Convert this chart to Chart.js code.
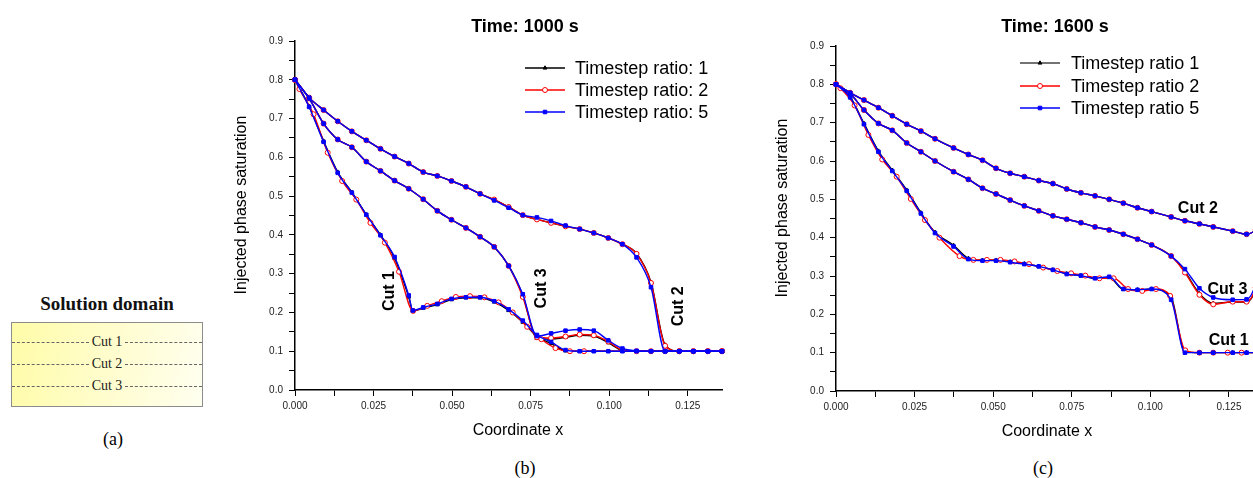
<!DOCTYPE html>
<html><head><meta charset="utf-8">
<script src="https://cdn.jsdelivr.net/npm/chart.js"></script>
<style>
html,body{margin:0;padding:0;width:1253px;height:478px;overflow:hidden;background:#fff;}
canvas{position:absolute;top:0;}
.cap{position:absolute;font-family:"Liberation Serif",serif;font-size:18px;line-height:18px;transform:translate(-50%,-50%);color:#000;white-space:nowrap;}
#titleA{position:absolute;left:107px;top:303px;transform:translate(-50%,-50%);font-family:"Liberation Serif",serif;font-weight:bold;font-size:19px;line-height:19px;white-space:nowrap;color:#111;}
#boxA{position:absolute;left:11px;top:322px;width:190px;height:83px;border:1px solid #8c8c8c;background:linear-gradient(100deg,#fffca8 0%,#fffdd0 55%,#fffff0 100%);}
.cutrow{position:absolute;left:0;right:0;height:16px;display:flex;align-items:center;font-family:"Liberation Serif",serif;font-size:14px;line-height:16px;color:#222;}
.seg{flex:1;border-top:1px dashed #666;height:0;}
.cutrow span{padding:0 3px;}
</style></head>
<body>
<div id="titleA">Solution domain</div>
<div id="boxA">
  <div class="cutrow" style="top:11px"><div class="seg"></div><span>Cut 1</span><div class="seg"></div></div>
  <div class="cutrow" style="top:33px"><div class="seg"></div><span>Cut 2</span><div class="seg"></div></div>
  <div class="cutrow" style="top:55px"><div class="seg"></div><span>Cut 3</span><div class="seg"></div></div>
</div>
<div class="cap" style="left:113px;top:439px">(a)</div>
<div class="cap" style="left:525px;top:468px">(b)</div>
<div class="cap" style="left:1043px;top:468px">(c)</div>
<canvas id="cb" width="535" height="478" style="left:225px"></canvas>
<canvas id="cc" width="520" height="478" style="left:760px"></canvas>
<script>
// ---------- Panel (b): Time 1000 s ----------
const xB = [0, 0.0045, 0.0091, 0.0136, 0.0181, 0.0227, 0.0272, 0.0317, 0.0362, 0.0408, 0.0453, 0.0498, 0.0544, 0.0589, 0.0634, 0.068, 0.0725, 0.077, 0.0815, 0.0861, 0.0906, 0.0951, 0.0997, 0.1042, 0.1087, 0.1133, 0.1178, 0.1223, 0.1268, 0.1314, 0.1359];
const xB1 = [0, 0.0045, 0.0091, 0.0136, 0.0181, 0.0227, 0.0272, 0.0317, 0.0362, 0.0375, 0.0408, 0.0453, 0.0498, 0.0544, 0.0589, 0.0634, 0.068, 0.0725, 0.077, 0.0815, 0.0861, 0.0906, 0.0951, 0.0997, 0.1042, 0.1087, 0.1133, 0.1178, 0.1223, 0.1268, 0.1314, 0.1359];
const xB1red = [0, 0.0014, 0.0059, 0.0104, 0.015, 0.0195, 0.024, 0.0286, 0.0331, 0.0376, 0.0421, 0.0467, 0.0512, 0.0557, 0.0603, 0.0648, 0.0693, 0.0739, 0.0784, 0.0829, 0.0875, 0.092, 0.1359];

const b1_r1 = [0.800, 0.731, 0.642, 0.562, 0.510, 0.452, 0.400, 0.340, 0.240, 0.204, 0.211, 0.220, 0.233, 0.238, 0.238, 0.227, 0.205, 0.175, 0.138, 0.120, 0.101, 0.100, 0.100, 0.100, 0.100, 0.100, 0.100, 0.100, 0.100, 0.100, 0.100, 0.100];
const b1_r2 = [0.800, 0.776, 0.711, 0.612, 0.539, 0.491, 0.431, 0.380, 0.305, 0.204, 0.217, 0.229, 0.240, 0.242, 0.239, 0.226, 0.200, 0.163, 0.131, 0.108, 0.100, 0.100, 0.100];
const b1_r5 = [0.800, 0.730, 0.640, 0.560, 0.509, 0.452, 0.399, 0.343, 0.244, 0.205, 0.213, 0.222, 0.235, 0.239, 0.239, 0.229, 0.208, 0.179, 0.142, 0.124, 0.103, 0.100, 0.100, 0.100, 0.100, 0.100, 0.100, 0.100, 0.100, 0.100, 0.100, 0.100];

const b2_r1 = [0.800, 0.754, 0.722, 0.693, 0.667, 0.644, 0.622, 0.602, 0.584, 0.562, 0.552, 0.539, 0.524, 0.506, 0.491, 0.472, 0.451, 0.440, 0.431, 0.422, 0.415, 0.405, 0.392, 0.376, 0.352, 0.278, 0.116, 0.100, 0.100, 0.100, 0.100];
const b2_r2 = [0.800, 0.754, 0.722, 0.693, 0.667, 0.644, 0.622, 0.602, 0.584, 0.562, 0.552, 0.539, 0.524, 0.506, 0.491, 0.472, 0.451, 0.440, 0.431, 0.422, 0.415, 0.405, 0.392, 0.376, 0.351, 0.276, 0.114, 0.100, 0.100, 0.100, 0.100];
const b2_r5 = [0.800, 0.754, 0.722, 0.693, 0.667, 0.644, 0.622, 0.602, 0.584, 0.562, 0.552, 0.539, 0.524, 0.506, 0.489, 0.470, 0.451, 0.445, 0.436, 0.424, 0.415, 0.405, 0.392, 0.376, 0.342, 0.265, 0.100, 0.100, 0.100, 0.100, 0.100];

const b3_r1 = [0.800, 0.752, 0.687, 0.646, 0.626, 0.589, 0.565, 0.540, 0.519, 0.492, 0.462, 0.439, 0.418, 0.395, 0.369, 0.321, 0.244, 0.133, 0.131, 0.136, 0.141, 0.139, 0.122, 0.102, 0.100, 0.100, 0.100, 0.100, 0.100, 0.100, 0.100];
const b3_r2 = [0.800, 0.752, 0.687, 0.646, 0.626, 0.589, 0.565, 0.540, 0.519, 0.492, 0.462, 0.439, 0.418, 0.395, 0.369, 0.320, 0.240, 0.136, 0.134, 0.138, 0.143, 0.141, 0.125, 0.103, 0.100, 0.100, 0.100, 0.100, 0.100, 0.100, 0.100];
const b3_r5 = [0.800, 0.752, 0.687, 0.646, 0.626, 0.589, 0.565, 0.540, 0.519, 0.492, 0.462, 0.439, 0.418, 0.395, 0.369, 0.320, 0.247, 0.139, 0.146, 0.153, 0.156, 0.153, 0.128, 0.107, 0.101, 0.100, 0.100, 0.100, 0.100, 0.100, 0.100];

// ---------- Panel (c): Time 1600 s ----------
const xC = [0, 0.0045, 0.0089, 0.0135, 0.0179, 0.0225, 0.027, 0.0315, 0.0374, 0.0421, 0.0466, 0.0509, 0.0554, 0.0599, 0.0645, 0.069, 0.0734, 0.0779, 0.0824, 0.0869, 0.0914, 0.0959, 0.1004, 0.1066, 0.111, 0.1156, 0.120, 0.1262, 0.1306, 0.1335, 0.135];
const xC1red = [0, 0.0014, 0.0059, 0.0103, 0.0147, 0.0193, 0.0238, 0.0283, 0.0329, 0.0393, 0.0437, 0.048, 0.0523, 0.0568, 0.0614, 0.0659, 0.0704, 0.0748, 0.0793, 0.0838, 0.0883, 0.0929, 0.0974, 0.1018, 0.1063, 0.1111, 0.1156, 0.120, 0.1246, 0.129, 0.135];

const c1_r1 = [0.800, 0.768, 0.698, 0.626, 0.576, 0.524, 0.465, 0.414, 0.380, 0.346, 0.341, 0.341, 0.337, 0.332, 0.325, 0.316, 0.306, 0.301, 0.294, 0.296, 0.265, 0.264, 0.266, 0.245, 0.102, 0.100, 0.100, 0.100, 0.100, 0.100, 0.100];
const c1_r2 = [0.800, 0.790, 0.745, 0.668, 0.604, 0.559, 0.501, 0.446, 0.400, 0.352, 0.342, 0.342, 0.342, 0.338, 0.331, 0.322, 0.313, 0.307, 0.301, 0.294, 0.294, 0.266, 0.261, 0.266, 0.248, 0.106, 0.100, 0.100, 0.100, 0.100, 0.100];
const c1_r5 = [0.800, 0.766, 0.696, 0.624, 0.574, 0.522, 0.463, 0.412, 0.377, 0.344, 0.340, 0.340, 0.336, 0.331, 0.325, 0.316, 0.305, 0.301, 0.294, 0.298, 0.266, 0.264, 0.266, 0.238, 0.100, 0.100, 0.100, 0.100, 0.100, 0.100, 0.100];

const c2_r1 = [0.800, 0.778, 0.759, 0.739, 0.718, 0.696, 0.678, 0.658, 0.634, 0.617, 0.602, 0.581, 0.568, 0.559, 0.549, 0.541, 0.527, 0.517, 0.509, 0.500, 0.490, 0.478, 0.468, 0.454, 0.444, 0.436, 0.428, 0.417, 0.409, 0.421, 0.440];
const c2_r2 = [0.800, 0.778, 0.759, 0.739, 0.718, 0.696, 0.678, 0.658, 0.634, 0.617, 0.602, 0.581, 0.568, 0.559, 0.549, 0.541, 0.527, 0.517, 0.509, 0.500, 0.490, 0.478, 0.468, 0.454, 0.444, 0.436, 0.428, 0.417, 0.409, 0.421, 0.440];
const c2_r5 = [0.800, 0.778, 0.759, 0.739, 0.718, 0.696, 0.678, 0.658, 0.634, 0.617, 0.602, 0.581, 0.568, 0.559, 0.549, 0.541, 0.527, 0.517, 0.509, 0.500, 0.490, 0.478, 0.468, 0.454, 0.444, 0.436, 0.428, 0.417, 0.409, 0.421, 0.440];

const c3_r1 = [0.800, 0.776, 0.733, 0.698, 0.680, 0.647, 0.624, 0.600, 0.572, 0.552, 0.529, 0.514, 0.498, 0.483, 0.470, 0.457, 0.448, 0.439, 0.428, 0.420, 0.409, 0.396, 0.381, 0.352, 0.311, 0.254, 0.229, 0.232, 0.232, 0.268, 0.330];
const c3_r2 = [0.800, 0.776, 0.733, 0.698, 0.680, 0.647, 0.624, 0.600, 0.572, 0.552, 0.529, 0.514, 0.498, 0.483, 0.470, 0.457, 0.448, 0.439, 0.428, 0.420, 0.409, 0.396, 0.381, 0.352, 0.309, 0.251, 0.226, 0.233, 0.233, 0.270, 0.330];
const c3_r5 = [0.800, 0.776, 0.733, 0.698, 0.680, 0.647, 0.624, 0.600, 0.572, 0.552, 0.529, 0.514, 0.498, 0.483, 0.470, 0.457, 0.448, 0.439, 0.428, 0.420, 0.409, 0.396, 0.381, 0.352, 0.318, 0.268, 0.244, 0.238, 0.239, 0.280, 0.340];

const legendB = ['Timestep ratio: 1', 'Timestep ratio: 2', 'Timestep ratio: 5'];
const legendC = ['Timestep ratio 1', 'Timestep ratio 2', 'Timestep ratio 5'];

// ---------- styles ----------
const STY = {
  r1: {borderColor:'#000000', pointBorderColor:'#000000', pointBackgroundColor:'#000000', pointStyle:'triangle', pointRadius:2.2, pointBorderWidth:1, order:2},
  r2: {borderColor:'#ff0000', pointBorderColor:'#ff0000', pointBackgroundColor:'#ffffff', pointStyle:'circle', pointRadius:2.5, pointBorderWidth:1, order:1},
  r5: {borderColor:'#0000ff', pointBorderColor:'#0000ff', pointBackgroundColor:'#0000ff', pointStyle:'rect', pointRadius:2.5, pointBorderWidth:1, order:0}
};
function series(xs, ys, r) {
  return Object.assign({
    data: xs.map((x, i) => ({x: x, y: ys[i]})),
    borderWidth: 1.4, fill: false, cubicInterpolationMode: 'monotone', clip: 6
  }, STY[r]);
}

function drawMarker(ctx, st, x, y) {
  ctx.save();
  ctx.lineWidth = st.pointBorderWidth;
  ctx.strokeStyle = st.pointBorderColor; ctx.fillStyle = st.pointBackgroundColor;
  const r = st.pointRadius;
  ctx.beginPath();
  if (st.pointStyle === 'circle') { ctx.arc(x, y, r, 0, Math.PI * 2); }
  else if (st.pointStyle === 'rect') { const s = r * Math.SQRT1_2; ctx.rect(x - s, y - s, 2 * s, 2 * s); }
  else { ctx.moveTo(x, y - r); ctx.lineTo(x + r * 0.866, y + r * 0.5); ctx.lineTo(x - r * 0.866, y + r * 0.5); ctx.closePath(); }
  ctx.fill(); ctx.stroke();
  ctx.restore();
}

const decor = {
  id: 'decor',
  afterDatasetsDraw(chart, args, o) {
    const ctx = chart.ctx, xs = chart.scales.x, ys = chart.scales.y;
    ctx.save();
    ctx.fillStyle = '#000';
    ctx.textBaseline = 'alphabetic';
    ctx.textAlign = 'center';
    ctx.font = 'bold 18px Arial, "Liberation Sans", sans-serif';
    ctx.fillText(o.title, o.titleX, o.titleY);
    ctx.font = '16px Arial, "Liberation Sans", sans-serif';
    ctx.fillText(o.xTitle, o.xTitleX, o.xTitleY);
    ctx.save(); ctx.translate(o.yTitleX, o.yTitleY); ctx.rotate(-Math.PI / 2);
    ctx.fillText(o.yTitle, 0, 0); ctx.restore();
    // legend
    const keys = ['r1', 'r2', 'r5'];
    ctx.font = '18px Arial, "Liberation Sans", sans-serif';
    ctx.textAlign = 'left';
    keys.forEach((k, i) => {
      const st = STY[k], y = o.legRows[i];
      ctx.save(); ctx.strokeStyle = (k === 'r1' && o.legGray) ? '#444' : st.borderColor; ctx.lineWidth = 1.4;
      ctx.beginPath(); ctx.moveTo(o.legX0, y); ctx.lineTo(o.legX1, y); ctx.stroke(); ctx.restore();
      drawMarker(ctx, st, (o.legX0 + o.legX1) / 2, y);
      ctx.fillStyle = '#000';
      ctx.fillText(o.legText[i], o.legTextX, y + 6);
    });
    // cut labels
    ctx.font = 'bold 16px Arial, "Liberation Sans", sans-serif';
    ctx.textAlign = 'center';
    o.cuts.forEach(c => {
      const px = xs.getPixelForValue(c.x), py = ys.getPixelForValue(c.y);
      ctx.save(); ctx.translate(px, py); if (c.rot) ctx.rotate(-Math.PI / 2);
      ctx.fillText(c.text, 0, 0); ctx.restore();
    });
    ctx.restore();
  }
};

function makeChart(id, xMax, pad, yW, xH, datasets, deco) {
  return new Chart(document.getElementById(id), {
    type: 'line',
    data: {datasets: datasets},
    options: {
      responsive: false, animation: false, devicePixelRatio: 1,
      layout: {padding: pad},
      plugins: {legend: {display: false}, tooltip: {enabled: false}, title: {display: false}, decor: deco},
      scales: {
        x: {
          type: 'linear', min: 0, max: xMax,
          afterFit(s) { s.height = xH; },
          ticks: {stepSize: 0.0125, maxTicksLimit: 100, includeBounds: false, autoSkip: false, maxRotation: 0, padding: 4,
            color: '#222', font: {family: 'Arial', size: 10},
            callback: v => (Math.round(v / 0.0125) % 2 === 0 ? v.toFixed(3) : '')},
          grid: {display: true, drawOnChartArea: false, drawTicks: true, tickLength: 6, tickColor: '#000', tickWidth: 1},
          border: {display: true, color: '#000', width: 1.5}
        },
        y: {
          type: 'linear', min: 0, max: 0.9,
          afterFit(s) { s.width = yW; },
          ticks: {stepSize: 0.05, maxTicksLimit: 100, includeBounds: false, autoSkip: false, padding: 6,
            color: '#222', font: {family: 'Arial', size: 10},
            callback: v => (Math.round(v / 0.05) % 2 === 0 ? v.toFixed(1) : '')},
          grid: {display: true, drawOnChartArea: false, drawTicks: true, tickLength: 6, tickColor: '#000', tickWidth: 1},
          border: {display: true, color: '#000', width: 1.5}
        }
      }
    },
    plugins: [decor]
  });
}

makeChart('cb', 0.1359, {left: 0, top: 41, right: 38, bottom: 0}, 70, 88, [
  series(xB1, b1_r1, 'r1'), series(xB1red, b1_r2, 'r2'), series(xB1, b1_r5, 'r5'),
  series(xB, b2_r1, 'r1'), series(xB, b2_r2, 'r2'), series(xB, b2_r5, 'r5'),
  series(xB, b3_r1, 'r1'), series(xB, b3_r2, 'r2'), series(xB, b3_r5, 'r5')
], {
  title: 'Time: 1000 s', titleX: 300, titleY: 32,
  xTitle: 'Coordinate x', xTitleX: 293, xTitleY: 435,
  yTitle: 'Injected phase saturation', yTitleX: 21, yTitleY: 205,
  legX0: 300, legX1: 340, legTextX: 350, legRows: [68, 90, 112], legText: legendB, legGray: false,
  cuts: [
    {text: 'Cut 1', x: 0.0315, y: 0.255, rot: true},
    {text: 'Cut 3', x: 0.0798, y: 0.262, rot: true},
    {text: 'Cut 2', x: 0.1234, y: 0.216, rot: true}
  ]
});

makeChart('cc', 0.135, {left: 0, top: 46, right: 19.6, bottom: 0}, 76, 87, [
  series(xC, c1_r1, 'r1'), series(xC1red, c1_r2, 'r2'), series(xC, c1_r5, 'r5'),
  series(xC, c2_r1, 'r1'), series(xC, c2_r2, 'r2'), series(xC, c2_r5, 'r5'),
  series(xC, c3_r1, 'r1'), series(xC, c3_r2, 'r2'), series(xC, c3_r5, 'r5')
], {
  title: 'Time: 1600 s', titleX: 295, titleY: 32,
  xTitle: 'Coordinate x', xTitleX: 287, xTitleY: 436,
  yTitle: 'Injected phase saturation', yTitleX: 27, yTitleY: 208,
  legX0: 260, legX1: 300, legTextX: 311, legRows: [63, 86, 108], legText: legendC, legGray: true,
  cuts: [
    {text: 'Cut 2', x: 0.1151, y: 0.4635, rot: false},
    {text: 'Cut 3', x: 0.1245, y: 0.2526, rot: false},
    {text: 'Cut 1', x: 0.1249, y: 0.1206, rot: false}
  ]
});
</script>
</body></html>
